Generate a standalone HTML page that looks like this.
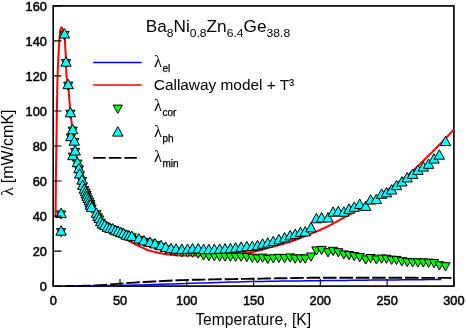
<!DOCTYPE html>
<html><head><meta charset="utf-8"><title>Thermal conductivity</title>
<style>
html,body{margin:0;padding:0;background:#fff;}
svg{display:block;will-change:transform;}
text{font-family:"Liberation Sans",Arial,sans-serif;fill:#000;}
.sym{font-family:"Liberation Serif","DejaVu Serif",serif;}
</style></head><body>
<svg width="466" height="330" viewBox="0 0 466 330">
<rect x="0" y="0" width="466" height="330" fill="#fff"/>

<defs><clipPath id="c"><rect x="52.400000000000006" y="5.1000000000000005" width="402.3" height="281.80000000000007"/></clipPath></defs>
<rect x="53.2" y="5.9" width="400.7" height="280.2" fill="none" stroke="#000" stroke-width="1.65"/>
<g clip-path="url(#c)">
<path d="M65.2,286.1 L71.6,286.1 L78.0,286.0 L84.3,285.9 L90.7,285.9 L97.1,285.8 L103.5,285.7 L109.8,285.6 L116.2,285.5 L122.6,285.3 L128.9,285.2 L135.3,285.1 L141.7,284.9 L148.1,284.7 L154.4,284.5 L160.8,284.3 L167.2,284.1 L173.6,283.9 L179.9,283.7 L186.3,283.5 L192.7,283.3 L199.0,283.1 L205.4,282.9 L211.8,282.7 L218.2,282.5 L224.5,282.3 L230.9,282.1 L237.3,281.9 L243.7,281.8 L250.0,281.6 L256.4,281.5 L262.8,281.4 L269.1,281.3 L275.5,281.2 L281.9,281.1 L288.3,281.0 L294.6,281.0 L301.0,280.9 L307.4,280.8 L313.8,280.7 L320.1,280.7 L326.5,280.6 L332.9,280.5 L339.2,280.5 L345.6,280.4 L352.0,280.3 L358.4,280.3 L364.7,280.2 L371.1,280.1 L377.5,280.1 L383.9,280.0 L390.2,279.9 L396.6,279.9 L403.0,279.8 L409.3,279.8 L415.7,279.7 L422.1,279.7 L428.5,279.6 L434.8,279.6 L441.2,279.5" stroke="#0000ff" stroke-width="1.5" fill="none"/>
<path d="M55.6,217.6 L55.6,215.6 L55.6,213.6 L55.6,211.6 L55.6,209.7 L55.6,207.7 L55.7,205.7 L55.7,203.7 L55.7,201.7 L55.7,199.7 L55.7,197.8 L55.7,195.8 L55.8,193.8 L55.8,191.8 L55.8,189.8 L55.8,187.8 L55.8,185.8 L55.9,183.9 L55.9,181.9 L55.9,179.9 L55.9,177.9 L55.9,175.9 L56.0,173.9 L56.0,172.0 L56.0,170.0 L56.0,168.0 L56.1,166.0 L56.1,164.0 L56.1,162.0 L56.2,160.0 L56.2,158.1 L56.2,156.1 L56.2,154.1 L56.3,152.1 L56.3,150.1 L56.3,148.1 L56.4,146.2 L56.4,144.2 L56.4,142.2 L56.4,140.2 L56.5,138.2 L56.5,136.2 L56.5,134.2 L56.6,132.3 L56.6,130.3 L56.6,128.3 L56.6,126.3 L56.7,124.3 L56.7,122.3 L56.7,120.4 L56.8,118.4 L56.8,116.4 L56.8,114.4 L56.9,112.4 L56.9,110.4 L56.9,108.4 L57.0,106.5 L57.0,104.5 L57.0,102.5 L57.1,100.5 L57.1,98.5 L57.1,96.5 L57.2,94.6 L57.2,92.6 L57.2,90.6 L57.3,88.6 L57.3,86.6 L57.4,84.6 L57.4,82.6 L57.4,80.7 L57.5,78.7 L57.6,76.7 L57.6,74.7 L57.7,72.7 L57.7,70.7 L57.8,68.8 L57.9,66.8 L58.0,64.8 L58.1,62.8 L58.2,60.8 L58.3,58.9 L58.4,56.9 L58.5,54.9 L58.6,52.9 L58.7,50.9 L58.8,48.9 L58.9,47.0 L59.1,45.0 L59.2,43.0 L59.3,41.0 L59.5,39.0 L59.6,37.1 L59.8,35.1 L60.0,33.1 L60.2,31.1 L60.6,29.2 L61.3,27.4 L62.6,28.9 L63.3,30.8 L63.9,32.7 L64.3,34.7 L64.6,36.6 L64.7,38.6 L64.9,40.6 L65.0,42.5 L65.1,44.5 L65.2,46.5 L65.3,48.5 L65.4,50.5 L65.6,52.5 L65.7,54.4 L65.8,56.4 L65.9,58.4 L66.0,60.4 L66.0,62.4 L66.1,64.4 L66.1,66.3 L66.2,68.3 L66.2,70.3 L66.3,72.3 L66.4,74.3 L66.5,76.3 L66.8,78.2 L67.1,80.2 L67.5,82.1 L67.9,84.1 L68.2,86.0 L68.4,88.0 L68.6,90.0 L68.8,92.0 L68.9,93.9 L69.1,95.9 L69.2,97.9 L69.4,99.9 L69.5,101.9 L69.7,103.8 L69.8,105.8 L70.0,107.8 L70.2,109.8 L70.4,111.7 L70.6,113.7 L70.8,115.7 L71.0,117.7 L71.3,119.6 L71.5,121.6 L71.7,123.6 L72.0,125.5 L72.2,127.5 L72.5,129.5 L72.8,131.5 L73.0,133.4 L73.3,135.4 L73.6,137.3 L73.9,139.3 L74.2,141.3 L74.5,143.2 L74.8,145.2 L75.2,147.1 L75.5,149.1 L75.8,151.1 L76.1,153.0 L76.4,155.0 L76.8,156.9 L77.1,158.9 L77.5,160.9 L77.8,162.8 L78.1,164.8 L78.5,166.7 L78.9,168.7 L79.3,170.6 L79.8,172.5 L80.4,174.4 L80.9,176.3 L81.5,178.2 L82.0,180.1 L82.6,182.1 L83.1,184.0 L83.7,185.9 L84.3,187.8 L84.9,189.7 L85.5,191.5 L86.2,193.4 L87.0,195.2 L87.7,197.1 L88.5,198.9 L89.2,200.8 L89.9,202.6 L90.6,204.5 L91.4,206.3 L92.3,208.0 L93.3,209.7 L94.5,211.4 L95.6,213.0 L96.7,214.7 L97.7,216.4 L98.6,218.2 L99.5,220.0 L100.5,221.8 L101.5,223.5 L102.7,225.0 L104.0,226.3 L105.4,227.7 L107.0,228.9 L108.6,230.1 L110.3,231.2 L112.1,232.3 L113.8,233.3 L115.5,234.3 L117.3,235.2 L119.1,236.0 L120.9,236.8 L122.7,237.6 L124.5,238.5 L126.3,239.4 L128.0,240.4 L129.7,241.4 L131.5,242.3 L133.2,243.2 L135.0,244.1 L136.8,245.0 L138.6,245.8 L140.4,246.7 L142.2,247.6 L144.0,248.4 L145.8,249.3 L147.6,250.0 L149.5,250.6 L151.4,251.1 L153.3,251.6 L155.2,252.1 L157.2,252.5 L159.1,252.9 L161.1,253.3 L163.0,253.7 L165.0,254.0 L167.0,254.3 L168.9,254.6 L170.9,254.8 L172.9,255.0 L174.8,255.1 L176.8,255.2 L178.8,255.4 L180.8,255.5 L182.8,255.5 L184.8,255.6 L186.7,255.6 L188.7,255.6 L190.7,255.6 L192.7,255.6 L194.7,255.6 L196.7,255.6 L198.7,255.6 L200.6,255.6 L202.6,255.6 L204.6,255.5 L206.6,255.4 L208.6,255.3 L210.6,255.2 L212.5,255.1 L214.5,255.0 L216.5,254.9 L218.5,254.8 L220.5,254.7 L222.4,254.6 L224.4,254.5 L226.4,254.4 L228.4,254.2 L230.4,254.1 L232.4,254.0 L234.3,253.9 L236.3,253.7 L238.3,253.6 L240.3,253.5 L242.3,253.4 L244.3,253.2 L246.2,253.0 L248.2,252.8 L250.1,252.6 L252.1,252.3 L254.0,251.9 L255.9,251.4 L257.9,250.9 L259.8,250.4 L261.7,249.8 L263.6,249.2 L265.5,248.7 L267.5,248.1 L269.4,247.6 L271.3,247.1 L273.2,246.6 L275.1,246.0 L277.1,245.5 L279.0,245.0 L280.9,244.5 L282.8,244.0 L284.7,243.4 L286.6,242.9 L288.5,242.3 L290.4,241.7 L292.3,241.0 L294.1,240.4 L296.0,239.7 L297.9,239.0 L299.7,238.3 L301.6,237.6 L303.4,236.9 L305.3,236.1 L307.1,235.4 L308.9,234.6 L310.8,233.9 L312.6,233.1 L314.4,232.3 L316.3,231.6 L318.1,230.8 L319.9,230.0 L321.7,229.1 L323.5,228.3 L325.3,227.5 L327.1,226.6 L328.9,225.7 L330.7,224.9 L332.4,224.0 L334.2,223.0 L335.9,222.1 L337.7,221.1 L339.4,220.1 L341.1,219.2 L342.9,218.2 L344.6,217.2 L346.3,216.3 L348.1,215.4 L349.9,214.4 L351.6,213.5 L353.4,212.6 L355.1,211.6 L356.8,210.7 L358.6,209.7 L360.2,208.6 L361.9,207.6 L363.6,206.5 L365.2,205.4 L366.9,204.3 L368.5,203.2 L370.2,202.1 L371.8,200.9 L373.4,199.8 L375.0,198.6 L376.7,197.5 L378.3,196.3 L379.9,195.2 L381.5,194.0 L383.1,192.9 L384.8,191.8 L386.4,190.6 L388.1,189.5 L389.7,188.4 L391.3,187.3 L393.0,186.1 L394.6,185.0 L396.3,183.9 L397.9,182.7 L399.5,181.6 L401.1,180.4 L402.7,179.2 L404.2,178.0 L405.8,176.8 L407.3,175.5 L408.8,174.3 L410.3,173.0 L411.8,171.7 L413.3,170.4 L414.8,169.0 L416.2,167.7 L417.7,166.3 L419.1,164.9 L420.5,163.5 L422.0,162.1 L423.4,160.7 L424.8,159.3 L426.2,157.9 L427.6,156.5 L429.0,155.1 L430.4,153.7 L431.9,152.4 L433.3,151.0 L434.7,149.6 L436.1,148.1 L437.4,146.7 L438.8,145.3 L440.2,143.9 L441.6,142.5 L443.0,141.0 L444.4,139.6 L445.7,138.2 L447.1,136.7 L448.5,135.3 L449.8,133.8 L451.2,132.4 L452.5,131.0 L453.9,129.5" stroke="#ff0000" stroke-width="2" fill="none" stroke-linejoin="round"/>
<g fill="#00ff00" stroke="#000" stroke-width="1" stroke-linejoin="miter">
<path d="M56.5,210.9L65.7,210.9L61.1,219.1Z"/>
<path d="M56.5,228.6L65.7,228.6L61.1,236.8Z"/>
<path d="M66.3,134.1L75.5,134.1L70.9,142.3Z"/>
<path d="M68.3,153.1L77.5,153.1L72.9,161.3Z"/>
<path d="M59.9,31.4L69.1,31.4L64.5,39.6Z"/>
<path d="M61.4,59.6L70.6,59.6L66.0,67.8Z"/>
<path d="M63.6,82.1L72.8,82.1L68.2,90.3Z"/>
<path d="M65.8,110.2L75.0,110.2L70.4,118.4Z"/>
<path d="M68.1,127.1L77.3,127.1L72.7,135.3Z"/>
<path d="M69.7,138.6L78.9,138.6L74.3,146.8Z"/>
<path d="M70.6,148.4L79.8,148.4L75.2,156.6Z"/>
<path d="M72.8,160.1L82.0,160.1L77.4,168.3Z"/>
<path d="M74.3,166.1L83.5,166.1L78.9,174.3Z"/>
<path d="M75.1,171.4L84.3,171.4L79.7,179.6Z"/>
<path d="M77.4,177.5L86.6,177.5L82.0,185.7Z"/>
<path d="M78.1,182.8L87.3,182.8L82.7,191.0Z"/>
<path d="M79.6,186.6L88.8,186.6L84.2,194.8Z"/>
<path d="M80.9,189.2L90.1,189.2L85.5,197.4Z"/>
<path d="M81.9,191.5L91.1,191.5L86.5,199.7Z"/>
<path d="M82.4,193.7L91.6,193.7L87.0,201.9Z"/>
<path d="M83.5,195.9L92.7,195.9L88.1,204.1Z"/>
<path d="M84.7,198.2L93.9,198.2L89.3,206.4Z"/>
<path d="M85.6,200.5L94.8,200.5L90.2,208.7Z"/>
<path d="M85.9,202.7L95.1,202.7L90.5,210.9Z"/>
<path d="M87.0,204.9L96.2,204.9L91.6,213.1Z"/>
<path d="M91.8,210.7L101.0,210.7L96.4,218.9Z"/>
<path d="M93.3,213.8L102.5,213.8L97.9,222.0Z"/>
<path d="M94.7,216.0L103.9,216.0L99.3,224.2Z"/>
<path d="M96.1,219.2L105.3,219.2L100.7,227.4Z"/>
<path d="M97.8,221.6L107.0,221.6L102.4,229.8Z"/>
<path d="M100.1,222.8L109.3,222.8L104.7,231.0Z"/>
<path d="M102.7,224.8L111.9,224.8L107.3,233.0Z"/>
<path d="M105.4,225.9L114.6,225.9L110.0,234.1Z"/>
<path d="M108.1,226.3L117.3,226.3L112.7,234.5Z"/>
<path d="M110.8,228.1L120.0,228.1L115.4,236.3Z"/>
<path d="M113.5,228.8L122.7,228.8L118.1,237.0Z"/>
<path d="M116.2,230.1L125.4,230.1L120.8,238.3Z"/>
<path d="M118.9,231.0L128.1,231.0L123.5,239.2Z"/>
<path d="M121.7,232.7L130.9,232.7L126.3,240.9Z"/>
<path d="M124.4,233.3L133.6,233.3L129.0,241.5Z"/>
<path d="M127.2,233.8L136.4,233.8L131.8,242.0Z"/>
<path d="M134.2,236.4L143.4,236.4L138.8,244.6Z"/>
<path d="M139.3,238.3L148.5,238.3L143.9,246.5Z"/>
<path d="M145.4,239.9L154.6,239.9L150.0,248.1Z"/>
<path d="M150.5,241.6L159.7,241.6L155.1,249.8Z"/>
<path d="M156.5,243.7L165.7,243.7L161.1,251.9Z"/>
<path d="M161.2,245.8L170.4,245.8L165.8,254.0Z"/>
<path d="M166.4,247.2L175.6,247.2L171.0,255.4Z"/>
<path d="M171.5,248.0L180.7,248.0L176.1,256.2Z"/>
<path d="M177.3,248.7L186.5,248.7L181.9,256.9Z"/>
<path d="M182.9,248.9L192.1,248.9L187.5,257.1Z"/>
<path d="M188.0,249.1L197.2,249.1L192.6,257.3Z"/>
<path d="M193.6,250.0L202.8,250.0L198.2,258.2Z"/>
<path d="M199.0,251.8L208.2,251.8L203.6,260.0Z"/>
<path d="M204.3,252.5L213.5,252.5L208.9,260.7Z"/>
<path d="M209.7,252.6L218.9,252.6L214.3,260.8Z"/>
<path d="M215.1,253.0L224.3,253.0L219.7,261.2Z"/>
<path d="M220.4,252.9L229.6,252.9L225.0,261.1Z"/>
<path d="M225.8,253.1L235.0,253.1L230.4,261.3Z"/>
<path d="M231.0,253.2L240.2,253.2L235.6,261.4Z"/>
<path d="M236.5,253.1L245.7,253.1L241.1,261.3Z"/>
<path d="M242.2,253.5L251.4,253.5L246.8,261.7Z"/>
<path d="M247.7,254.2L256.9,254.2L252.3,262.4Z"/>
<path d="M252.9,254.8L262.1,254.8L257.5,263.0Z"/>
<path d="M258.0,254.1L267.2,254.1L262.6,262.3Z"/>
<path d="M263.2,255.3L272.4,255.3L267.8,263.5Z"/>
<path d="M268.7,254.8L277.9,254.8L273.3,263.0Z"/>
<path d="M274.3,254.3L283.5,254.3L278.9,262.5Z"/>
<path d="M280.0,254.6L289.2,254.6L284.6,262.8Z"/>
<path d="M285.5,253.9L294.7,253.9L290.1,262.1Z"/>
<path d="M290.6,255.0L299.8,255.0L295.2,263.2Z"/>
<path d="M295.8,254.8L305.0,254.8L300.4,263.0Z"/>
<path d="M300.6,255.0L309.8,255.0L305.2,263.2Z"/>
<path d="M306.4,253.0L315.6,253.0L311.0,261.2Z"/>
<path d="M311.8,246.9L321.0,246.9L316.4,255.1Z"/>
<path d="M317.0,246.4L326.2,246.4L321.6,254.6Z"/>
<path d="M323.4,248.7L332.6,248.7L328.0,256.9Z"/>
<path d="M328.5,247.3L337.7,247.3L333.1,255.5Z"/>
<path d="M333.7,248.7L342.9,248.7L338.3,256.9Z"/>
<path d="M339.2,250.9L348.4,250.9L343.8,259.1Z"/>
<path d="M344.4,251.6L353.6,251.6L349.0,259.8Z"/>
<path d="M349.6,252.5L358.8,252.5L354.2,260.7Z"/>
<path d="M355.1,253.6L364.3,253.6L359.7,261.8Z"/>
<path d="M361.1,255.9L370.3,255.9L365.7,264.1Z"/>
<path d="M366.0,254.5L375.2,254.5L370.6,262.7Z"/>
<path d="M371.8,255.9L381.0,255.9L376.4,264.1Z"/>
<path d="M377.0,255.0L386.2,255.0L381.6,263.2Z"/>
<path d="M381.9,255.2L391.1,255.2L386.5,263.4Z"/>
<path d="M387.0,256.2L396.2,256.2L391.6,264.4Z"/>
<path d="M391.9,256.4L401.1,256.4L396.5,264.6Z"/>
<path d="M397.2,257.7L406.5,257.7L401.9,265.9Z"/>
<path d="M402.6,258.4L411.8,258.4L407.2,266.6Z"/>
<path d="M408.0,258.8L417.2,258.8L412.6,267.0Z"/>
<path d="M413.3,258.8L422.5,258.8L417.9,267.0Z"/>
<path d="M418.7,258.9L427.9,258.9L423.3,267.1Z"/>
<path d="M424.0,259.1L433.2,259.1L428.6,267.3Z"/>
<path d="M429.4,259.5L438.6,259.5L434.0,267.7Z"/>
<path d="M434.7,261.8L443.9,261.8L439.3,270.0Z"/>
<path d="M440.9,262.7L450.1,262.7L445.5,270.9Z"/>
</g>
<g fill="#00ffff" stroke="#000" stroke-width="1" stroke-linejoin="miter">
<path d="M55.9,217.5L66.3,217.5L61.1,208.1Z"/>
<path d="M55.9,235.2L66.3,235.2L61.1,225.8Z"/>
<path d="M65.7,140.7L76.1,140.7L70.9,131.3Z"/>
<path d="M67.7,159.7L78.1,159.7L72.9,150.3Z"/>
<path d="M59.3,38.0L69.7,38.0L64.5,28.6Z"/>
<path d="M60.8,66.2L71.2,66.2L66.0,56.8Z"/>
<path d="M63.0,88.7L73.4,88.7L68.2,79.3Z"/>
<path d="M65.2,116.8L75.6,116.8L70.4,107.4Z"/>
<path d="M67.5,133.7L77.9,133.7L72.7,124.3Z"/>
<path d="M69.1,145.2L79.5,145.2L74.3,135.8Z"/>
<path d="M70.0,155.0L80.4,155.0L75.2,145.6Z"/>
<path d="M72.2,166.7L82.6,166.7L77.4,157.3Z"/>
<path d="M73.7,172.7L84.1,172.7L78.9,163.3Z"/>
<path d="M74.5,178.0L84.9,178.0L79.7,168.6Z"/>
<path d="M76.8,184.1L87.2,184.1L82.0,174.7Z"/>
<path d="M77.5,189.4L87.9,189.4L82.7,180.0Z"/>
<path d="M79.0,193.2L89.4,193.2L84.2,183.8Z"/>
<path d="M80.3,195.8L90.7,195.8L85.5,186.4Z"/>
<path d="M81.3,198.1L91.7,198.1L86.5,188.7Z"/>
<path d="M81.8,200.3L92.2,200.3L87.0,190.9Z"/>
<path d="M82.9,202.5L93.3,202.5L88.1,193.1Z"/>
<path d="M84.1,204.8L94.5,204.8L89.3,195.4Z"/>
<path d="M85.0,207.1L95.4,207.1L90.2,197.7Z"/>
<path d="M85.3,209.3L95.7,209.3L90.5,199.9Z"/>
<path d="M86.4,211.5L96.8,211.5L91.6,202.1Z"/>
<path d="M91.2,217.3L101.6,217.3L96.4,207.9Z"/>
<path d="M92.7,220.4L103.1,220.4L97.9,211.0Z"/>
<path d="M94.1,222.6L104.5,222.6L99.3,213.2Z"/>
<path d="M95.5,225.8L105.9,225.8L100.7,216.4Z"/>
<path d="M97.2,228.2L107.6,228.2L102.4,218.8Z"/>
<path d="M99.5,229.4L109.9,229.4L104.7,220.0Z"/>
<path d="M102.1,231.4L112.5,231.4L107.3,222.0Z"/>
<path d="M104.8,232.5L115.2,232.5L110.0,223.1Z"/>
<path d="M107.5,232.9L117.9,232.9L112.7,223.5Z"/>
<path d="M110.2,234.7L120.6,234.7L115.4,225.3Z"/>
<path d="M112.9,235.4L123.3,235.4L118.1,226.0Z"/>
<path d="M115.6,236.7L126.0,236.7L120.8,227.3Z"/>
<path d="M118.3,237.6L128.7,237.6L123.5,228.2Z"/>
<path d="M121.1,239.3L131.5,239.3L126.3,229.9Z"/>
<path d="M123.8,239.9L134.2,239.9L129.0,230.5Z"/>
<path d="M126.6,240.4L137.0,240.4L131.8,231.0Z"/>
<path d="M133.6,243.0L144.0,243.0L138.8,233.6Z"/>
<path d="M138.7,244.9L149.1,244.9L143.9,235.5Z"/>
<path d="M144.8,246.5L155.2,246.5L150.0,237.1Z"/>
<path d="M149.9,247.9L160.3,247.9L155.1,238.5Z"/>
<path d="M155.9,249.7L166.3,249.7L161.1,240.3Z"/>
<path d="M160.6,251.5L171.0,251.5L165.8,242.1Z"/>
<path d="M165.8,252.7L176.2,252.7L171.0,243.3Z"/>
<path d="M170.9,253.2L181.3,253.2L176.1,243.8Z"/>
<path d="M176.7,253.5L187.1,253.5L181.9,244.1Z"/>
<path d="M182.3,253.4L192.7,253.4L187.5,244.0Z"/>
<path d="M187.4,253.0L197.8,253.0L192.6,243.6Z"/>
<path d="M193.0,252.9L203.4,252.9L198.2,243.5Z"/>
<path d="M198.4,253.6L208.8,253.6L203.6,244.2Z"/>
<path d="M203.7,253.7L214.1,253.7L208.9,244.3Z"/>
<path d="M209.1,253.6L219.5,253.6L214.3,244.2Z"/>
<path d="M214.5,253.3L224.9,253.3L219.7,243.9Z"/>
<path d="M219.8,253.1L230.2,253.1L225.0,243.7Z"/>
<path d="M225.2,252.8L235.6,252.8L230.4,243.4Z"/>
<path d="M230.4,252.1L240.8,252.1L235.6,242.7Z"/>
<path d="M235.9,251.4L246.3,251.4L241.1,242.0Z"/>
<path d="M241.6,250.8L252.0,250.8L246.8,241.4Z"/>
<path d="M247.1,250.6L257.5,250.6L252.3,241.2Z"/>
<path d="M252.3,249.7L262.7,249.7L257.5,240.3Z"/>
<path d="M257.4,248.2L267.8,248.2L262.6,238.8Z"/>
<path d="M262.6,247.1L273.0,247.1L267.8,237.7Z"/>
<path d="M268.1,245.6L278.5,245.6L273.3,236.2Z"/>
<path d="M273.7,243.8L284.1,243.8L278.9,234.4Z"/>
<path d="M279.4,242.0L289.8,242.0L284.6,232.6Z"/>
<path d="M284.9,239.9L295.3,239.9L290.1,230.5Z"/>
<path d="M290.0,238.5L300.4,238.5L295.2,229.1Z"/>
<path d="M295.2,236.6L305.6,236.6L300.4,227.2Z"/>
<path d="M300.0,236.0L310.4,236.0L305.2,226.6Z"/>
<path d="M305.8,231.9L316.2,231.9L311.0,222.5Z"/>
<path d="M311.2,222.8L321.6,222.8L316.4,213.4Z"/>
<path d="M316.4,222.0L326.8,222.0L321.6,212.6Z"/>
<path d="M322.8,222.0L333.2,222.0L328.0,212.6Z"/>
<path d="M327.9,216.2L338.3,216.2L333.1,206.8Z"/>
<path d="M333.1,215.7L343.5,215.7L338.3,206.3Z"/>
<path d="M338.6,216.2L349.0,216.2L343.8,206.8Z"/>
<path d="M343.8,213.3L354.2,213.3L349.0,203.9Z"/>
<path d="M349.0,211.3L359.4,211.3L354.2,201.9Z"/>
<path d="M354.5,208.4L364.9,208.4L359.7,199.0Z"/>
<path d="M360.5,210.4L370.9,210.4L365.7,201.0Z"/>
<path d="M365.4,204.1L375.8,204.1L370.6,194.7Z"/>
<path d="M371.2,203.5L381.6,203.5L376.4,194.1Z"/>
<path d="M376.4,198.3L386.8,198.3L381.6,188.9Z"/>
<path d="M381.3,196.9L391.7,196.9L386.5,187.5Z"/>
<path d="M386.4,194.0L396.8,194.0L391.6,184.6Z"/>
<path d="M391.3,189.7L401.7,189.7L396.5,180.3Z"/>
<path d="M396.7,186.0L407.1,186.0L401.9,176.6Z"/>
<path d="M402.0,181.9L412.4,181.9L407.2,172.5Z"/>
<path d="M407.4,178.4L417.8,178.4L412.6,169.0Z"/>
<path d="M412.7,174.4L423.1,174.4L417.9,165.0Z"/>
<path d="M418.1,171.1L428.5,171.1L423.3,161.7Z"/>
<path d="M423.4,168.3L433.8,168.3L428.6,158.9Z"/>
<path d="M428.8,163.1L439.2,163.1L434.0,153.7Z"/>
<path d="M434.1,159.2L444.5,159.2L439.3,149.8Z"/>
<path d="M440.3,145.6L450.7,145.6L445.5,136.2Z"/>
</g>
<path d="M65.2,286.1 L70.1,286.0 L75.1,286.0 L80.0,285.9 L84.9,285.8 L89.8,285.7 L94.7,285.5 L99.7,285.3 L104.6,285.0 L109.5,284.6 L114.4,284.1 L119.3,283.6 L124.3,283.3 L129.2,282.9 L134.1,282.6 L139.0,282.3 L143.9,282.0 L148.9,281.8 L153.8,281.5 L158.7,281.2 L163.6,281.0 L168.5,280.7 L173.5,280.5 L178.4,280.3 L183.3,280.1 L188.2,279.9 L193.1,279.8 L198.1,279.7 L203.0,279.6 L207.9,279.5 L212.8,279.4 L217.7,279.3 L222.7,279.2 L227.6,279.2 L232.5,279.1 L237.4,279.0 L242.3,278.9 L247.3,278.9 L252.2,278.8 L257.1,278.7 L262.0,278.6 L266.9,278.5 L271.9,278.4 L276.8,278.3 L281.7,278.3 L286.6,278.2 L291.5,278.1 L296.5,278.0 L301.4,277.9 L306.3,277.9 L311.2,277.8 L316.1,277.7 L321.1,277.7 L326.0,277.7 L330.9,277.7 L335.8,277.7 L340.7,277.7 L345.7,277.7 L350.6,277.7 L355.5,277.7 L360.4,277.7 L365.3,277.7 L370.3,277.8 L375.2,277.8 L380.1,277.8 L385.0,277.8 L389.9,277.8 L394.9,277.8 L399.8,277.8 L404.7,277.8 L409.6,277.8 L414.5,277.8 L419.5,277.9 L424.4,277.9 L429.3,277.9 L434.2,277.9 L439.1,277.9 L444.1,277.9 L449.0,277.9 L453.9,278.0" stroke="#000" stroke-width="1.9" fill="none" stroke-dasharray="13.6 2.8" stroke-dashoffset="4.4"/>
</g>
<path d="M53.2,286.1h8.3 M53.2,251.1h8.3 M53.2,216.1h8.3 M53.2,181.0h8.3 M53.2,146.0h8.3 M53.2,111.0h8.3 M53.2,75.9h8.3 M53.2,40.9h8.3 M53.2,5.9h8.3 M53.2,286.1v-7.2 M120.0,286.1v-7.2 M186.8,286.1v-7.2 M253.6,286.1v-7.2 M320.3,286.1v-7.2 M387.1,286.1v-7.2 M453.9,286.1v-7.2" stroke="#000" stroke-width="1.1" fill="none"/>
<text transform="translate(46.9,290.8) scale(1,0.93)" font-size="12.8" text-anchor="end" stroke="#000" stroke-width="0.5">0</text>
<text transform="translate(46.9,255.8) scale(1,0.93)" font-size="12.8" text-anchor="end" stroke="#000" stroke-width="0.5">20</text>
<text transform="translate(46.9,220.8) scale(1,0.93)" font-size="12.8" text-anchor="end" stroke="#000" stroke-width="0.5">40</text>
<text transform="translate(46.9,185.7) scale(1,0.93)" font-size="12.8" text-anchor="end" stroke="#000" stroke-width="0.5">60</text>
<text transform="translate(46.9,150.7) scale(1,0.93)" font-size="12.8" text-anchor="end" stroke="#000" stroke-width="0.5">80</text>
<text transform="translate(46.9,115.7) scale(1,0.93)" font-size="12.8" text-anchor="end" stroke="#000" stroke-width="0.5">100</text>
<text transform="translate(46.9,80.6) scale(1,0.93)" font-size="12.8" text-anchor="end" stroke="#000" stroke-width="0.5">120</text>
<text transform="translate(46.9,45.6) scale(1,0.93)" font-size="12.8" text-anchor="end" stroke="#000" stroke-width="0.5">140</text>
<text transform="translate(46.9,10.6) scale(1,0.93)" font-size="12.8" text-anchor="end" stroke="#000" stroke-width="0.5">160</text>
<text transform="translate(53.2,305.3) scale(1,0.93)" font-size="12.8" text-anchor="middle" stroke="#000" stroke-width="0.5">0</text>
<text transform="translate(120.0,305.3) scale(1,0.93)" font-size="12.8" text-anchor="middle" stroke="#000" stroke-width="0.5">50</text>
<text transform="translate(186.8,305.3) scale(1,0.93)" font-size="12.8" text-anchor="middle" stroke="#000" stroke-width="0.5">100</text>
<text transform="translate(253.6,305.3) scale(1,0.93)" font-size="12.8" text-anchor="middle" stroke="#000" stroke-width="0.5">150</text>
<text transform="translate(320.3,305.3) scale(1,0.93)" font-size="12.8" text-anchor="middle" stroke="#000" stroke-width="0.5">200</text>
<text transform="translate(387.1,305.3) scale(1,0.93)" font-size="12.8" text-anchor="middle" stroke="#000" stroke-width="0.5">250</text>
<text transform="translate(453.9,305.3) scale(1,0.93)" font-size="12.8" text-anchor="middle" stroke="#000" stroke-width="0.5">300</text>
<text x="253.2" y="324.5" font-size="15.7" text-anchor="middle">Temperature, [K]</text>
<g transform="translate(12.6,195.8) rotate(-90)"><text class="sym" x="0" y="0" font-size="16.5" textLength="8.5" lengthAdjust="spacingAndGlyphs">λ</text><text x="12.6" y="0" font-size="16">[mW/cmK]</text></g>
<text transform="translate(145.7,32) scale(1.012,0.96)" font-size="17">Ba<tspan font-size="12" dy="5.7">8</tspan><tspan dy="-5.7">Ni</tspan><tspan font-size="12" dy="5.7">0.8</tspan><tspan dy="-5.7">Zn</tspan><tspan font-size="12" dy="5.7">6.4</tspan><tspan dy="-5.7">Ge</tspan><tspan font-size="12" dy="5.7">38.8</tspan></text>
<path d="M93.2,62.6H141.7" stroke="#0000ff" stroke-width="1.5"/>
<path d="M93.2,85.0H141.7" stroke="#ff0000" stroke-width="1.7"/>
<g fill="#00ff00" stroke="#000" stroke-width="1"><path d="M113.2,105.1L122.4,105.1L117.8,113.3Z"/></g>
<g fill="#00ffff" stroke="#000" stroke-width="1"><path d="M112.6,136.1L123.0,136.1L117.8,126.7Z"/></g>
<path d="M93.2,157.9H139" stroke="#000" stroke-width="1.6" stroke-dasharray="12.4 3.2"/>
<text class="sym" x="154" y="66.7" font-size="16" textLength="8" lengthAdjust="spacingAndGlyphs">λ</text><text x="162.4" y="71.7" font-size="10" stroke="#000" stroke-width="0.25">el</text>
<text x="153.8" y="90" font-size="15.4">Callaway model + T³</text>
<text class="sym" x="154" y="110.5" font-size="16" textLength="8" lengthAdjust="spacingAndGlyphs">λ</text><text x="162.4" y="115.5" font-size="10" stroke="#000" stroke-width="0.25">cor</text>
<text class="sym" x="154" y="136.5" font-size="16" textLength="8" lengthAdjust="spacingAndGlyphs">λ</text><text x="162.4" y="141.5" font-size="10" stroke="#000" stroke-width="0.25">ph</text>
<text class="sym" x="154" y="161.5" font-size="16" textLength="8" lengthAdjust="spacingAndGlyphs">λ</text><text x="162.4" y="166.5" font-size="10" stroke="#000" stroke-width="0.25">min</text>
</svg></body></html>
